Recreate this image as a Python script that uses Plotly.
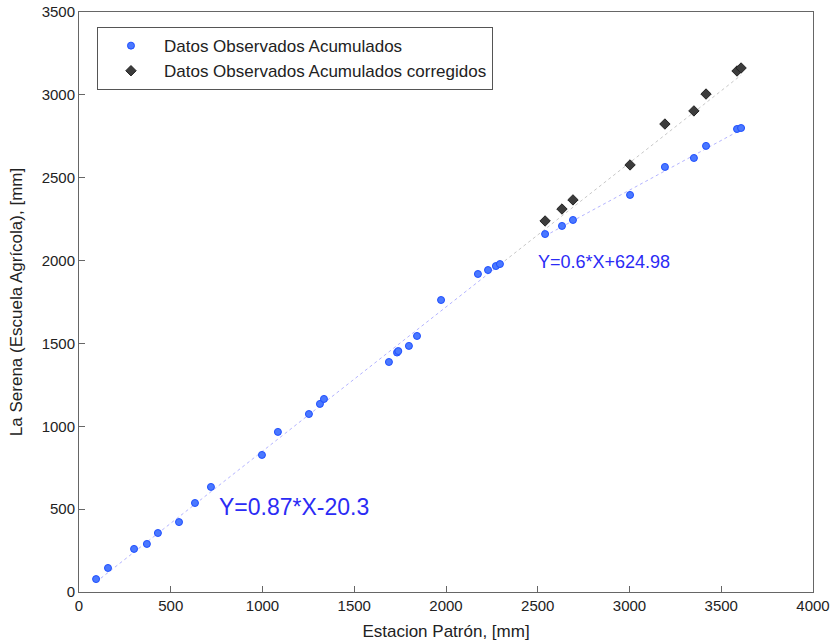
import plotly.graph_objects as go

# Observed accumulated data (x: Estacion Patron, y: La Serena)
obs_x = [93, 158, 300, 370, 430, 545, 632, 719, 997, 1084, 1253, 1313, 1335,
         1689, 1733, 1740, 1798, 1842, 1973, 2174, 2229, 2272, 2294,
         2540, 2632, 2692, 3003, 3193, 3351, 3417, 3586, 3608]
obs_y = [78, 145, 260, 290, 356, 422, 537, 634, 827, 966, 1074, 1135, 1165,
         1388, 1445, 1454, 1485, 1545, 1762, 1919, 1943, 1967, 1979,
         2160, 2209, 2245, 2396, 2565, 2619, 2692, 2794, 2800]

# Corrected accumulated data
corr_x = [2540, 2632, 2692, 3003, 3193, 3351, 3417, 3586, 3608]
corr_y = [2239, 2311, 2366, 2577, 2824, 2903, 3005, 3144, 3162]

# Regression lines
fit1_x = [93, 2294]
fit1_y = [0.87 * v - 20.3 for v in fit1_x]
fit1b_x = [2294, 3608]
fit1b_y = [0.87 * v - 20.3 for v in fit1b_x]
fit2_x = [2540, 3608]
fit2_y = [0.6 * v + 624.98 for v in fit2_x]

x_ticks = [0, 500, 1000, 1500, 2000, 2500, 3000, 3500, 4000]
y_ticks = [0, 500, 1000, 1500, 2000, 2500, 3000, 3500]

FONT = "Liberation Sans, Arial, Helvetica"

fig = go.Figure()
fig.add_trace(go.Scatter(x=fit1b_x, y=fit1b_y, mode="lines",
                         line=dict(color="#c8c8c8", width=1, dash="dot"),
                         showlegend=False, hoverinfo="skip"))
fig.add_trace(go.Scatter(x=fit1_x, y=fit1_y, mode="lines",
                         line=dict(color="#b4b4ff", width=1, dash="dot"),
                         showlegend=False, hoverinfo="skip"))
fig.add_trace(go.Scatter(x=fit2_x, y=fit2_y, mode="lines",
                         line=dict(color="#b4b4ff", width=1, dash="dot"),
                         showlegend=False, hoverinfo="skip"))
fig.add_trace(go.Scatter(x=obs_x, y=obs_y, mode="markers",
                         name="Datos Observados Acumulados",
                         marker=dict(symbol="circle", size=7, color="#4a78ff",
                                     line=dict(color="#1f4fff", width=1))))
fig.add_trace(go.Scatter(x=corr_x, y=corr_y, mode="markers",
                         name="Datos Observados Acumulados corregidos",
                         marker=dict(symbol="diamond", size=8, color="#3c3c3c",
                                     line=dict(color="#222222", width=1))))

fig.add_annotation(x=750, y=510, text="Y=0.87*X-20.3", showarrow=False,
                   xanchor="left", yanchor="middle",
                   font=dict(family=FONT, size=23, color="#2b2bf5"))
fig.add_annotation(x=2490, y=1990, text="Y=0.6*X+624.98", showarrow=False,
                   xanchor="left", yanchor="middle",
                   font=dict(family=FONT, size=18, color="#2b2bf5"))

axis_common = dict(showgrid=False, zeroline=False, showline=True, mirror=True,
                   linecolor="#666666", linewidth=1, ticks="inside", ticklen=6,
                   tickcolor="#666666", automargin=False,
                   tickfont=dict(family=FONT, size=15, color="#222222"))

fig.update_layout(
    width=835, height=644,
    margin=dict(l=79, r=22, t=12, b=52),
    paper_bgcolor="white", plot_bgcolor="white",
    font=dict(family=FONT, size=14, color="#222222"),
    xaxis=dict(range=[0, 4000], tickvals=x_ticks,
               title=dict(text="Estacion Patrón, [mm]", standoff=12,
                          font=dict(family=FONT, size=17)), **axis_common),
    yaxis=dict(range=[0, 3500], tickvals=y_ticks,
               title=dict(text="La Serena (Escuela Agrícola), [mm]", standoff=14,
                          font=dict(family=FONT, size=17)), **axis_common),
    legend=dict(x=0.0245, y=0.974, xanchor="left", yanchor="top",
                bgcolor="white", bordercolor="#555555", borderwidth=1,
                font=dict(family=FONT, size=17, color="#222222"), itemwidth=56,
                tracegroupgap=0),
)

fig.write_html("out.html")
